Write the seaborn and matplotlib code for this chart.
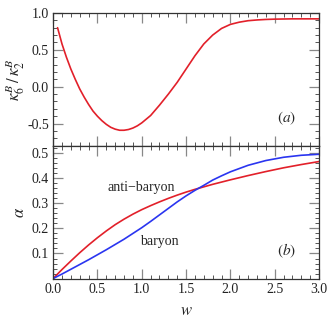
import pandas as pd
import seaborn as sns
import matplotlib
import matplotlib.pyplot as plt
from matplotlib.ticker import MultipleLocator, FormatStrFormatter

matplotlib.use('Agg')

# Panel (a): kappa_6^B / kappa_2^B versus w
w_top = [0.05, 0.10, 0.15, 0.20, 0.25, 0.30, 0.35, 0.40, 0.45, 0.50,
         0.55, 0.60, 0.65, 0.70, 0.75, 0.80, 0.85, 0.90, 0.95, 1.00,
         1.10, 1.20, 1.30, 1.40, 1.50, 1.60, 1.70, 1.80, 1.90, 2.00,
         2.10, 2.20, 2.30, 2.40, 2.50, 2.70, 3.00]
ratio_top = [0.80, 0.58, 0.40, 0.24, 0.10, -0.03, -0.14, -0.24, -0.33, -0.40,
             -0.46, -0.51, -0.55, -0.575, -0.59, -0.59, -0.58, -0.56, -0.53, -0.49,
             -0.39, -0.25, -0.10, 0.06, 0.24, 0.42, 0.58, 0.70, 0.79, 0.845,
             0.875, 0.895, 0.905, 0.912, 0.916, 0.92, 0.92]

# Panel (b): alpha versus w
w_bot = [0.0, 0.1, 0.2, 0.3, 0.4, 0.5, 0.6, 0.7, 0.8, 0.9, 1.0, 1.1, 1.2,
         1.3, 1.4, 1.5, 1.6, 1.7, 1.8, 1.9, 2.0, 2.2, 2.4, 2.6, 2.8, 3.0]
alpha_anti = [0.0, 0.036, 0.070, 0.103, 0.134, 0.163, 0.190, 0.215, 0.237, 0.257,
              0.275, 0.291, 0.306, 0.320, 0.333, 0.345, 0.356, 0.366, 0.376, 0.385,
              0.394, 0.411, 0.427, 0.442, 0.455, 0.467]
alpha_baryon = [0.0, 0.018, 0.037, 0.056, 0.075, 0.095, 0.115, 0.136, 0.157, 0.180,
                0.203, 0.228, 0.254, 0.280, 0.306, 0.330, 0.352, 0.372, 0.393, 0.410,
                0.426, 0.452, 0.471, 0.484, 0.492, 0.496]

sns.set_theme(style="ticks")
plt.rcParams['font.family'] = ['Liberation Serif', 'DejaVu Serif']
plt.rcParams['mathtext.fontset'] = 'stix'
plt.rcParams['font.size'] = 10

RED = "#e2202a"
BLUE = "#2a35f0"

fig = plt.figure(figsize=(3.32, 3.32), dpi=100)
ax1 = fig.add_axes([0.160, 0.561, 0.801, 0.400])
ax2 = fig.add_axes([0.160, 0.161, 0.801, 0.400], sharex=ax1)

df_top = pd.DataFrame({"w": w_top, "ratio": ratio_top})
sns.lineplot(data=df_top, x="w", y="ratio", ax=ax1, color=RED, linewidth=1.2)

df_bot = pd.DataFrame({"w": w_bot, "anti": alpha_anti, "baryon": alpha_baryon})
sns.lineplot(data=df_bot, x="w", y="anti", ax=ax2, color=RED, linewidth=1.2)
sns.lineplot(data=df_bot, x="w", y="baryon", ax=ax2, color=BLUE, linewidth=1.2)

ax1.set_ylim(-0.8, 1.0)
ax2.set_ylim(0, 0.53)

ax2.xaxis.set_major_locator(MultipleLocator(0.5))
ax2.xaxis.set_minor_locator(MultipleLocator(0.1))
ax2.xaxis.set_major_formatter(FormatStrFormatter("%.1f"))
ax1.yaxis.set_major_locator(MultipleLocator(0.5))
ax1.yaxis.set_minor_locator(MultipleLocator(0.1))
ax1.yaxis.set_major_formatter(FormatStrFormatter("%.1f"))
ax2.yaxis.set_major_locator(MultipleLocator(0.1))
ax2.yaxis.set_minor_locator(MultipleLocator(0.02))
ax2.yaxis.set_major_formatter(FormatStrFormatter("%.1f"))

for ax in (ax1, ax2):
    ax.tick_params(which='both', direction='in', top=True, right=True,
                   labelsize=10, colors='#222222', pad=3)
    ax.tick_params(which='major', length=7, width=0.9, color='#888888')
    ax.tick_params(which='minor', length=3, width=0.7, color='#555555')
    for s in ax.spines.values():
        s.set_linewidth(0.9)
        s.set_color('#333333')

ax1.tick_params(labelbottom=False)
ax2.set_yticks([0.1, 0.2, 0.3, 0.4, 0.5])
ax2.set_xlim(0, 3.0)

ax1.set_xlabel("")
ax1.set_ylabel(r"$\kappa_6^B\,/\,\kappa_2^B$", fontsize=12, labelpad=0)
ax2.set_ylabel(r"$\alpha$", fontsize=12, labelpad=3)
ax2.set_xlabel(r"$w$", fontsize=12, labelpad=5)

ax1.text(2.63, -0.43, r"$(a)$", fontsize=11, ha='center', va='center')
ax2.text(2.63, 0.111, r"$(b)$", fontsize=11, ha='center', va='center')
ax2.text(0.99, 0.365, "anti\u2212baryon", fontsize=10, ha='center', va='center')
ax2.text(1.2, 0.148, "baryon", fontsize=10, ha='center', va='center')

fig.savefig("out.png", dpi=100)
